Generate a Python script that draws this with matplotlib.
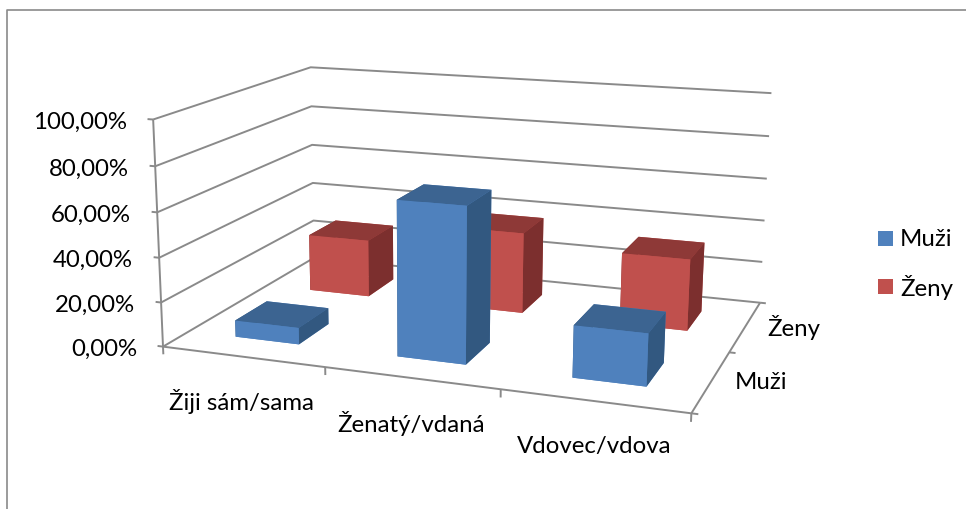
import matplotlib
matplotlib.use("Agg")
import matplotlib.pyplot as plt
import numpy as np
from matplotlib.patches import Rectangle
from mpl_toolkits.mplot3d.art3d import Line3DCollection

plt.rcParams['font.family'] = ['Lato', 'DejaVu Sans']

categories = ["Žiji sám/sama", "Ženatý/vdaná", "Vdovec/vdova"]
series = ["Muži", "Ženy"]
muzi = [0.075, 0.685, 0.225]
zeny = [0.275, 0.38, 0.33]
z_ticks = [0.0, 0.2, 0.4, 0.6, 0.8, 1.0]
z_labels = ["0,00%", "20,00%", "40,00%", "60,00%", "80,00%", "100,00%"]

# box corner in chart units -> where it sits in the picture (pixels)
anchors = [
    ((0, 0, 0), (164, 347)), ((0, 0, 1), (152, 121)),
    ((0, 2, 0), (313, 259)), ((0, 2, 1), (312, 68)),
    ((3, 2, 0), (760, 304)), ((3, 2, 1), (771, 94)),
    ((3, 0, 0), (691, 414)), ((1, 0, 0), (325, 368)),
    ((2, 0, 0), (501, 391)), ((3, 1, 0), (730, 353)),
]

GRID = "#8a8a8a"
FONT = 17.3
# faces of bar3d: bottom, top, front, back, left, right
BLUE = ["#4f81bd", "#3c6491", "#4f81bd", "#4f81bd", "#325880", "#325880"]
RED = ["#c0504d", "#8e3937", "#c0504d", "#c0504d", "#7c2f2e", "#7c2f2e"]


def fit_camera(points):
    A = []
    b = []
    for (x, y, z), (u, v) in points:
        A.append([x, y, z, 1, 0, 0, 0, 0, -u * x, -u * y, -u * z])
        b.append(u)
        A.append([0, 0, 0, 0, x, y, z, 1, -v * x, -v * y, -v * z])
        b.append(v)
    p = np.linalg.lstsq(np.array(A, float), np.array(b, float), rcond=None)[0]
    return np.array([
        [p[0], p[1], p[2], p[3]],
        [p[4], p[5], p[6], p[7]],
        [0, 0, 0, -1],
        [p[8], p[9], p[10], 1],
    ])


W, H = 966, 510
fig = plt.figure(figsize=(W / 100, H / 100), dpi=100)
ax = fig.add_axes([0, 0, 1, 1], projection="3d", computed_zorder=False)
camera = fit_camera(anchors)
ax.get_proj = lambda: camera
ax.apply_aspect = lambda position=None: None
ax.viewLim.intervalx = (0, W)
ax.viewLim.intervaly = (H, 0)
ax.set_axis_off()
ax.patch.set_visible(False)


def seg(xs, ys, zs, lw=1.4):
    pts = list(zip(xs, ys, zs))
    lines = Line3DCollection([pts], colors=GRID, linewidths=lw, zorder=1, clip_on=False)
    ax.add_collection3d(lines)


def px_text(x, y, s, ha="center"):
    fig.text(x / W, 1 - y / H, s, ha=ha, va="center", fontsize=FONT, color="black")


# walls and floor
for z in z_ticks:
    seg([0, 0, 3], [0, 2, 2], [z, z, z])
    seg([-0.035, 0], [0, 0], [z, z])
seg([0, 0], [0, 0], [0, 1])
seg([0, 3, 3], [0, 0, 2], [0, 0, 0])
for k in range(4):
    seg([k, k], [0, 0], [0, -0.035])
for k in range(3):
    seg([3, 3.035], [k, k], [0, 0])

# bars, back row first so the front row covers it
for row, (values, colors) in enumerate([(zeny, RED), (muzi, BLUE)]):
    depth = 1 - row
    for i, val in enumerate(values):
        ax.bar3d(i + 0.3, depth + 0.3, 0, 0.4, 0.4, val, color=colors, shade=False,
                 linewidth=0, zorder=2 + row + i * 0.01)

# value labels, right aligned next to the tick they belong to
for z, lab in zip(z_ticks, z_labels):
    u, v, w = camera[[0, 1, 3]] @ [0, 0, z, 1]
    px_text(u / w - 26, v / w + 2, lab, ha="right")

# axis labels
for (x, y), lab in zip([(241, 402), (411, 423), (594, 447)], categories):
    px_text(x, y, lab)
px_text(735, 383, series[0], ha="left")
px_text(767, 328, series[1], ha="left")

# legend
for y, lab, col in [(232, series[0], BLUE[0]), (280, series[1], RED[0])]:
    fig.add_artist(Rectangle((878 / W, 1 - (y + 15) / H), 15 / W, 15 / H,
                             transform=fig.transFigure, color=col, lw=0))
    px_text(900, y + 7, lab, ha="left")

# chart frame, only top and left are in the picture
fig.add_artist(plt.Line2D([6.5 / W, 6.5 / W, 1], [0, 1 - 10.5 / H, 1 - 10.5 / H],
                          transform=fig.transFigure, color="#8a8a8a", lw=1.2))

fig.savefig("out.png", dpi=100)
